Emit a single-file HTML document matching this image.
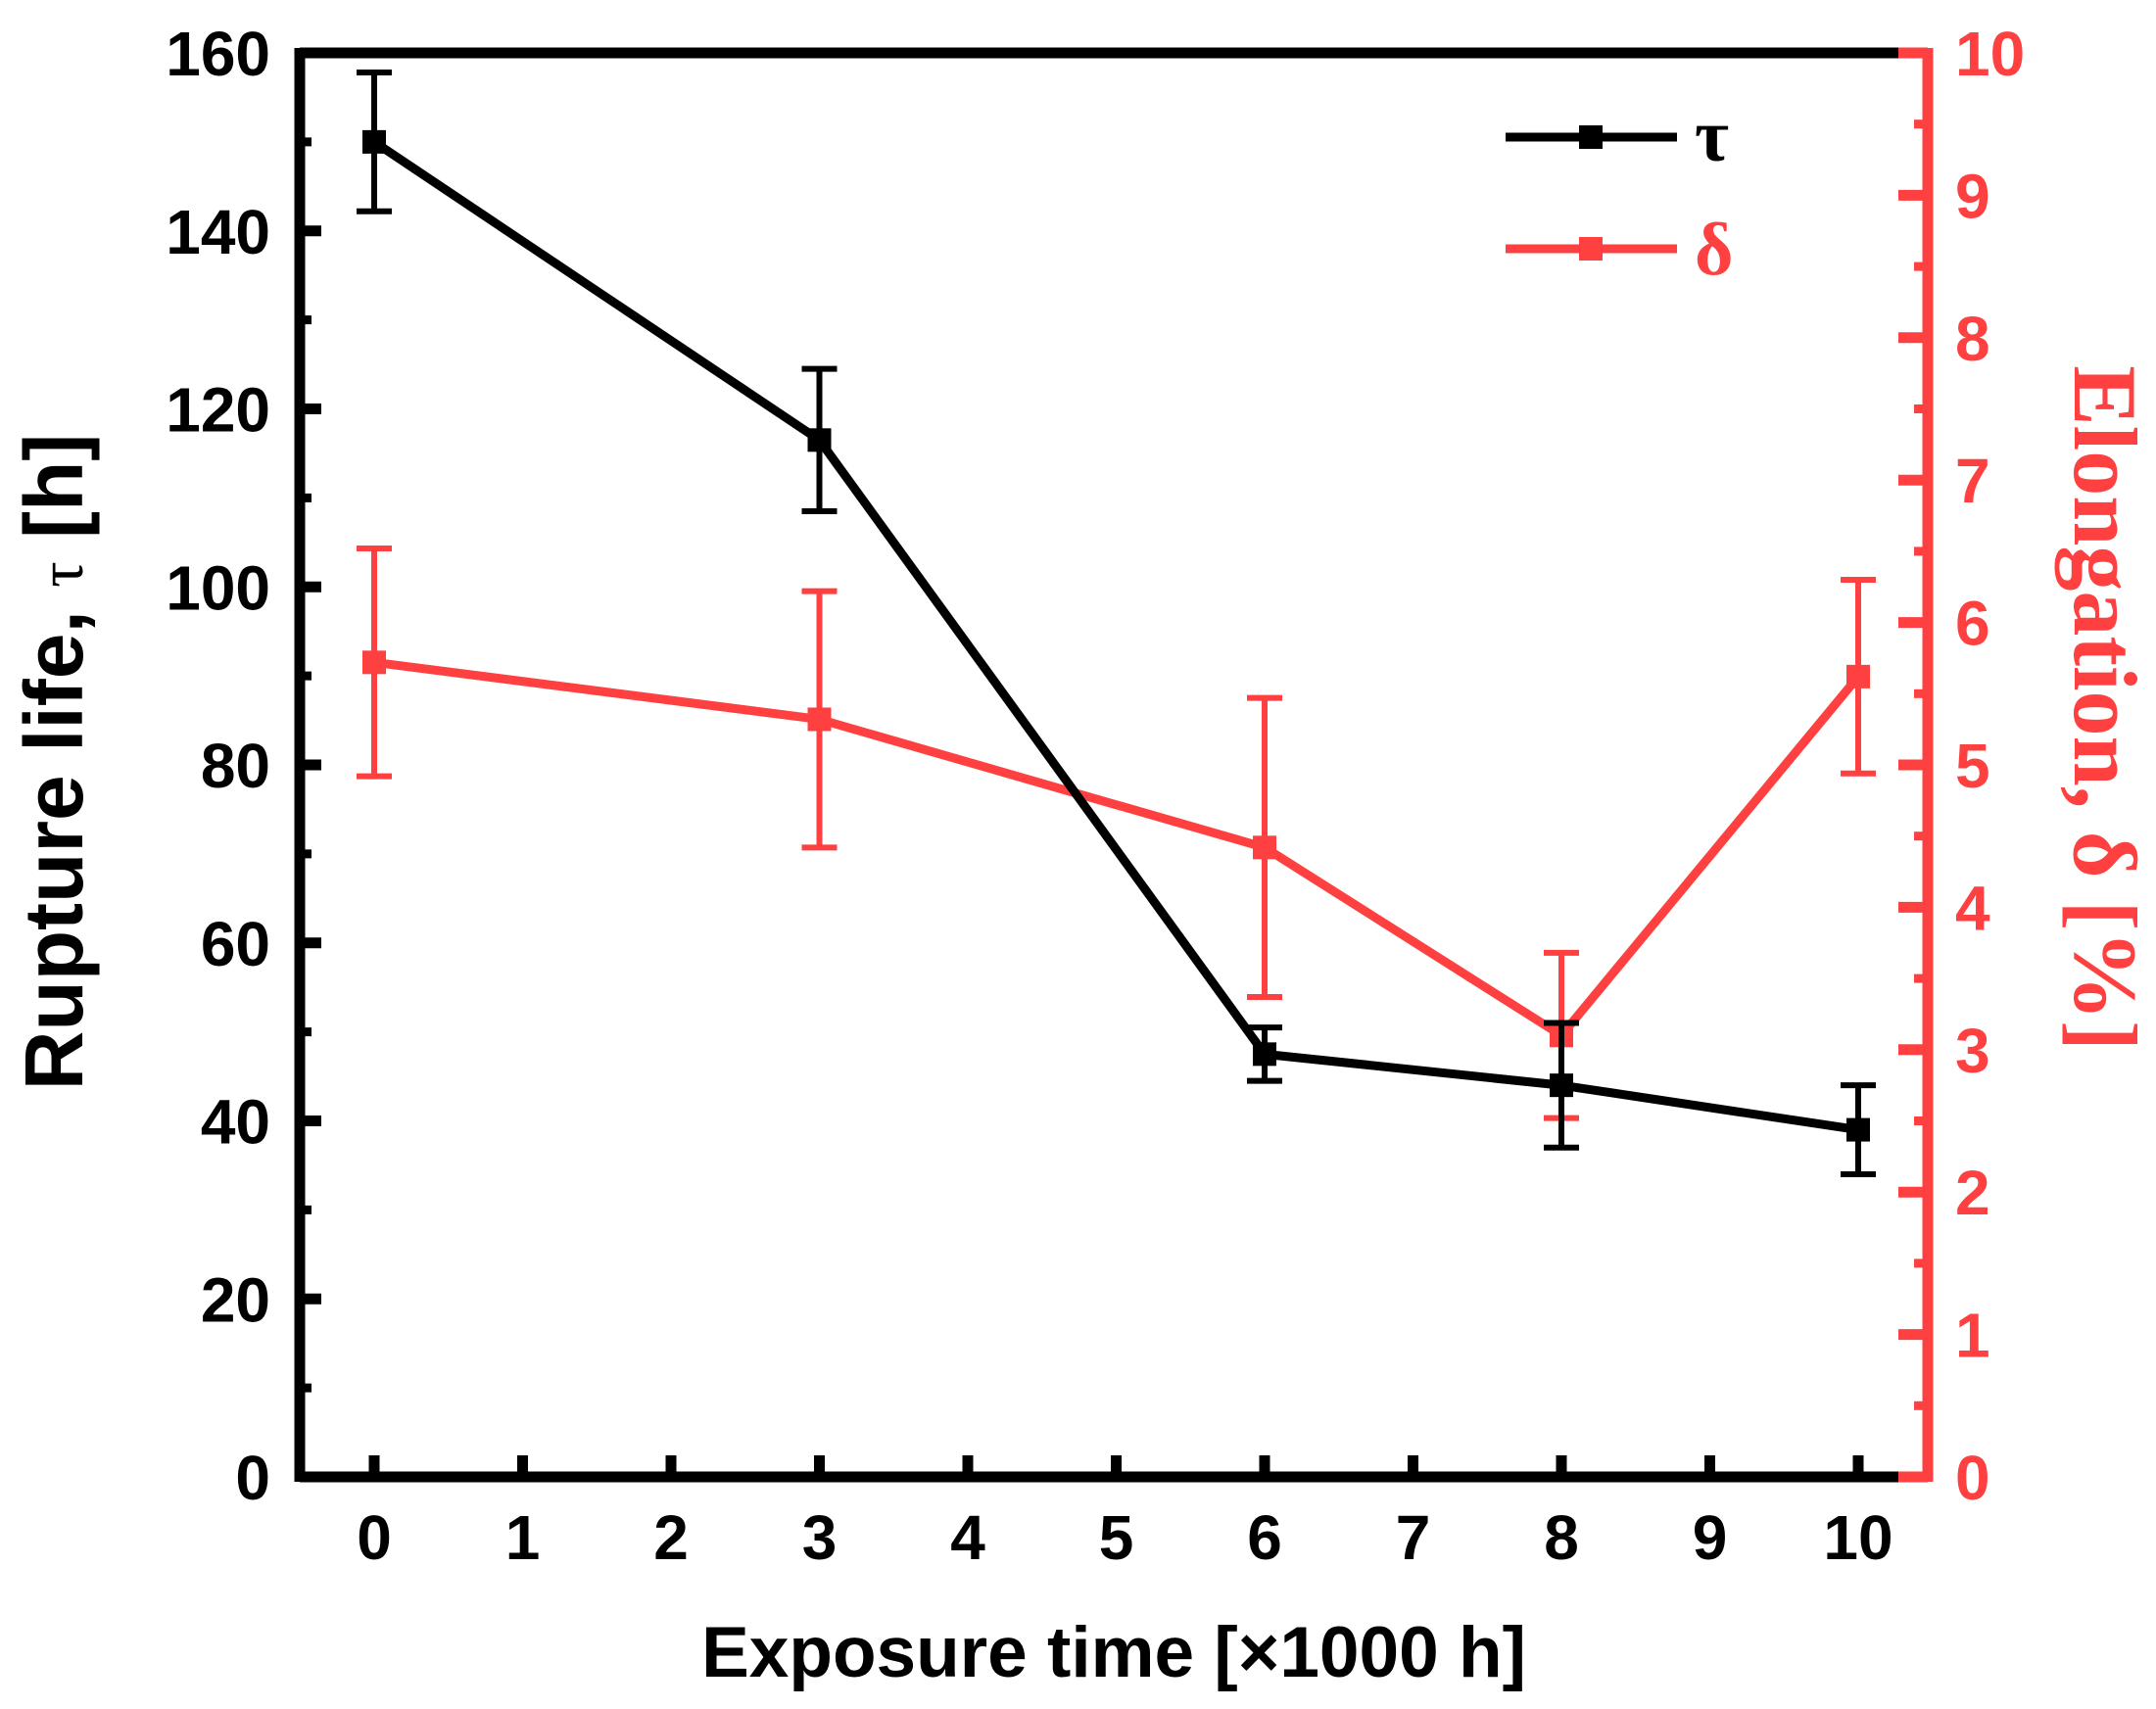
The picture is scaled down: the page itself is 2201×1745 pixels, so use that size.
<!DOCTYPE html>
<html><head><meta charset="utf-8"><style>
html,body{margin:0;padding:0;background:#fff;}
svg{display:block;}
text{font-family:"Liberation Sans",sans-serif;font-weight:bold;}
</style></head><body>
<svg id="chart" width="2201" height="1745" viewBox="0 0 2201 1745">
<g id="axes"></g>
<g id="marks"></g>
<g id="legend">
  <line x1="1537" y1="140" x2="1712" y2="140" stroke="#000" stroke-width="9"/>
  <rect x="1612" y="128" width="24" height="24" fill="#000"/>
  <text x="1730" y="164" font-size="76" style="font-family:'Liberation Serif',serif">τ</text>
  <line x1="1537" y1="254" x2="1712" y2="254" stroke="#ff4040" stroke-width="9"/>
  <rect x="1612" y="242" width="24" height="24" fill="#ff4040"/>
  <text x="1730" y="280" font-size="76" fill="#ff4040" style="font-family:'Liberation Serif',serif">δ</text>
</g>
<text x="1137" y="1712" font-size="73" text-anchor="middle">Exposure time [×1000 h]</text>
<text transform="translate(84,778) rotate(-90)" font-size="84" text-anchor="middle">Rupture life, <tspan style="font-family:'Liberation Serif',serif" font-weight="normal" font-size="66">τ</tspan>  [h]</text>
<text transform="translate(2118,723) rotate(90)" font-size="92" text-anchor="middle" fill="#ff4040" style="font-family:'Liberation Serif',serif">Elongation, δ [%]</text>
</svg>
<script>
const xCats=[0,3,6,8,10];
const tauVals=[150,116.5,47.5,44,39];
const tauErr=[7.8,8,3,7,5];
const deltaVals=[5.72,5.32,4.42,3.1,5.62];
const deltaErr=[0.8,0.9,1.05,0.58,0.68];
const xTicks=[0,1,2,3,4,5,6,7,8,9,10];
const yLeftTicks=[0,20,40,60,80,100,120,140,160];
const yRightTicks=[0,1,2,3,4,5,6,7,8,9,10];

const L=306,R=1968,T=54,B=1508;
const xs=v=>382+v*151.5;
const yl=v=>B-(v/160)*(B-T);
const yr=v=>B-(v/10)*(B-T);
const NS='http://www.w3.org/2000/svg';
const axes=document.getElementById('axes');
const marks=document.getElementById('marks');
function mk(tag,attrs,parent){const e=document.createElementNS(NS,tag);for(const k in attrs)e.setAttribute(k,attrs[k]);parent.appendChild(e);return e;}

let e;
e=mk('line',{x1:L,y1:T,x2:R,y2:T,stroke:'#000','stroke-width':11},axes);


e=mk('line',{x1:L,y1:B,x2:R,y2:B,stroke:'#000','stroke-width':11},axes);


e=mk('line',{x1:L,y1:T-5,x2:L,y2:B+5,stroke:'#000','stroke-width':11},axes);


e=mk('line',{x1:R,y1:T-5,x2:R,y2:B+5,stroke:'#ff4040','stroke-width':11},axes);


e=mk('line',{x1:R-30,y1:T,x2:R,y2:T,stroke:'#ff4040','stroke-width':11},axes);



xTicks.forEach(v=>{
  const t=mk('line',{x1:xs(v),y1:B,x2:xs(v),y2:B-22,stroke:'#000','stroke-width':11},axes);
  
  
  const l=mk('text',{x:xs(v),y:1592,'font-size':64,'text-anchor':'middle'},axes);
  l.textContent=v;
  
  
});
yLeftTicks.forEach((v,i)=>{
  const t=mk('line',{x1:L,y1:yl(v),x2:L+22,y2:yl(v),stroke:'#000','stroke-width':11},axes);
  
  
  if(i<yLeftTicks.length-1){
    const m=mk('line',{x1:L,y1:yl(v+10),x2:L+12,y2:yl(v+10),stroke:'#000','stroke-width':9},axes);
    
    
  }
  const l=mk('text',{x:276,y:yl(v)+23,'font-size':64,'text-anchor':'end'},axes);
  l.textContent=v;
  
  
});
yRightTicks.forEach((v,i)=>{
  const t=mk('line',{x1:R,y1:yr(v),x2:R-30,y2:yr(v),stroke:'#ff4040','stroke-width':11},axes);
  
  
  if(i<yRightTicks.length-1){
    const m=mk('line',{x1:R,y1:yr(v+0.5),x2:R-14,y2:yr(v+0.5),stroke:'#ff4040','stroke-width':9},axes);
    
    
  }
  const l=mk('text',{x:1996,y:yr(v)+23,'font-size':64,fill:'#ff4040'},axes);
  l.textContent=v;
  
  
});

function series(vals,errs,yf,color,name){
  const pts=xCats.map((x,i)=>xs(x)+','+yf(vals[i])).join(' ');
  const pl=mk('polyline',{points:pts,fill:'none',stroke:color,'stroke-width':9,'stroke-linejoin':'round'},marks);
  
  
  xCats.forEach((x,i)=>{
    const cx=xs(x),y1=yf(vals[i]+errs[i]),y2=yf(vals[i]-errs[i]);
    const g=mk('g',{},marks);
    
    
    mk('line',{x1:cx,y1:y1,x2:cx,y2:y2,stroke:color,'stroke-width':6},g);
    mk('line',{x1:cx-18,y1:y1,x2:cx+18,y2:y1,stroke:color,'stroke-width':6},g);
    mk('line',{x1:cx-18,y1:y2,x2:cx+18,y2:y2,stroke:color,'stroke-width':6},g);
    const r=mk('rect',{x:cx-12,y:yf(vals[i])-12,width:24,height:24,fill:color},marks);
    
    
  });
}
series(deltaVals,deltaErr,yr,'#ff4040','delta');
series(tauVals,tauErr,yl,'#000','tau');
</script>
</body></html>
